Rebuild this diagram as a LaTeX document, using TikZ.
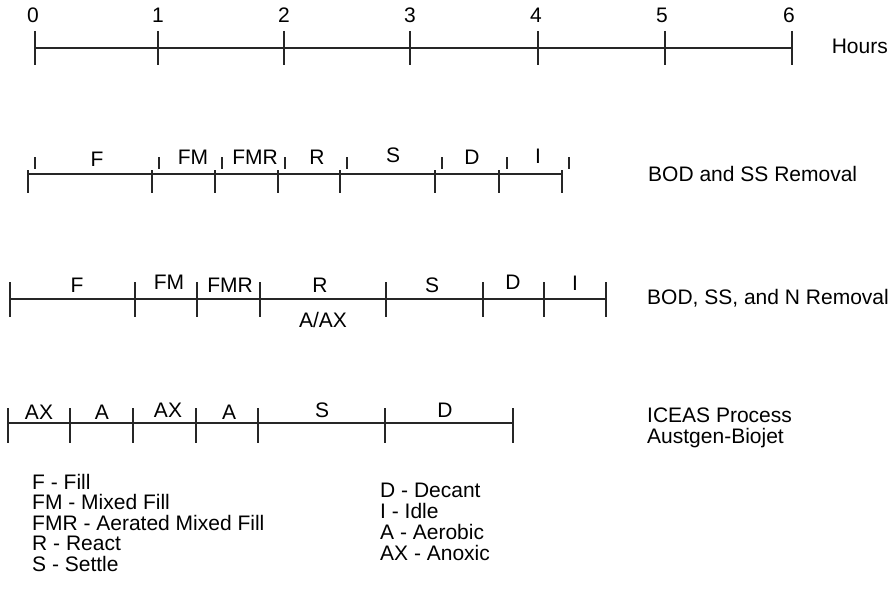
\documentclass[tikz,border=0pt]{standalone}
\usepackage{fontspec}
\setmainfont{Liberation Sans}
\begin{document}
\begin{tikzpicture}[x=1pt,y=-1pt,
  axis/.style={line width=1.6pt, draw=black!85},
  tick/.style={line width=2.3pt, draw=black!85},
  lbl/.style={inner sep=0pt, font=\fontsize{21}{22}\selectfont},
  side/.style={inner sep=0pt, anchor=west, font=\fontsize{21}{22}\selectfont},
  legend/.style={inner sep=0pt, anchor=west, align=left, font=\fontsize{21}{22}\selectfont}]
\useasboundingbox (0,0) rectangle (893,591);

% ---------- Hours axis ----------
\foreach \n/\x in {0/35,1/158,2/284,3/410,4/538,5/665,6/792}{
  \coordinate (h\n t) at (\x,31);
  \coordinate (h\n b) at (\x,65);
  \coordinate (h\n) at (\x,48);
  \draw[tick] (h\n t) -- (h\n b);
}
\foreach \n/\x in {0/33,1/158,2/284,3/410,4/536,5/662,6/789}{
  \node[lbl] (n\n) at (\x,15) {\n};
}
\draw[axis] (h0) -- (h6);
\node[lbl, anchor=east] (hours) at (888,46) {Hours};

% ---------- BOD and SS Removal ----------
\foreach \i/\x in {0/28,1/152,2/215,3/278,4/340,5/435,6/499,7/562}{
  \coordinate (a\i) at (\x,174);
  \coordinate (a\i b) at (\x,193);
  \coordinate (a\i t) at (\x,170);
  \draw[tick] (a\i t) -- (a\i b);
}
\foreach \i/\x in {0/35,1/159,2/222,3/285,4/347,5/442,6/507,7/569}{
  \coordinate (u\i t) at (\x,157);
  \coordinate (u\i b) at (\x,169);
  \draw[tick] (u\i t) -- (u\i b);
}
\draw[axis] (a0) -- (a7);
\node[lbl] (aF) at (97,159) {F};
\node[lbl] (aFM) at (193,157) {FM};
\node[lbl] (aFMR) at (255,157) {FMR};
\node[lbl] (aR) at (317,157) {R};
\node[lbl] (aS) at (393,155) {S};
\node[lbl] (aD) at (472,157) {D};
\node[lbl] (aI) at (538,156) {I};
\node[side] (aname) at (648,174) {BOD and SS Removal};

% ---------- BOD, SS, and N Removal ----------
\foreach \i/\x in {0/10,1/135,2/197,3/260,4/386,5/483,6/544,7/606}{
  \coordinate (b\i) at (\x,299);
  \coordinate (b\i t) at (\x,282);
  \coordinate (b\i b) at (\x,317);
  \draw[tick] (b\i t) -- (b\i b);
}
\draw[axis] (b0) -- (b7);
\node[lbl] (bF) at (77,285) {F};
\node[lbl] (bFM) at (169,282) {FM};
\node[lbl] (bFMR) at (230,285) {FMR};
\node[lbl] (bR) at (320,285) {R};
\node[lbl] (bAAX) at (323,320) {A/AX};
\node[lbl] (bS) at (432,285) {S};
\node[lbl] (bD) at (513,282) {D};
\node[lbl] (bI) at (575,283) {I};
\node[side] (bname) at (647,298) {BOD, SS, and N Removal};

% ---------- ICEAS ----------
\foreach \i/\x in {0/8,1/70,2/133,3/196,4/258,5/385,6/513}{
  \coordinate (c\i) at (\x,423);
  \coordinate (c\i t) at (\x,408);
  \coordinate (c\i b) at (\x,443);
  \draw[tick] (c\i t) -- (c\i b);
}
\draw[axis] (c0) -- (c6);
\node[lbl] (cAX1) at (39,412) {AX};
\node[lbl] (cA1) at (102,412) {A};
\node[lbl] (cAX2) at (168,410) {AX};
\node[lbl] (cA2) at (229,412) {A};
\node[lbl] (cS) at (322,410) {S};
\node[lbl] (cD) at (445,410) {D};
\node[side] (cname1) at (647,415) {ICEAS Process};
\node[side] (cname2) at (647,438) {Austgen-Biojet};

% ---------- Legend ----------
\node[legend] (leg1) at (32,482) {F - Fill};
\node[legend] (leg2) at (32,502) {FM - Mixed Fill};
\node[legend] (leg3) at (32,523) {FMR - Aerated Mixed Fill};
\node[legend] (leg4) at (32,543) {R - React};
\node[legend] (leg5) at (32,564) {S - Settle};
\node[legend] (leg6) at (380,490) {D - Decant};
\node[legend] (leg7) at (380,511) {I - Idle};
\node[legend] (leg8) at (380,532) {A - Aerobic};
\node[legend] (leg9) at (380,553) {AX - Anoxic};
\end{tikzpicture}
\end{document}
